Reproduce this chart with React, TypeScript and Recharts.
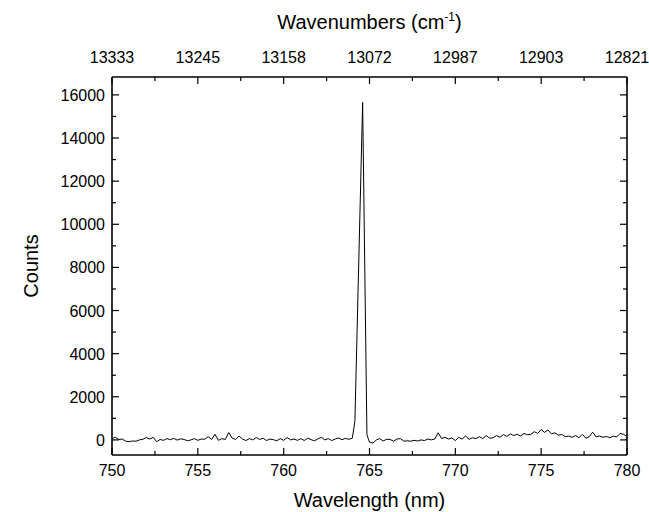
import { LineChart, Line, XAxis, YAxis } from "recharts";

// Emission spectrum, 750–780 nm, with a mirrored wavenumber axis on top.

const WAVELENGTH = [
  750.0, 750.2, 750.4, 750.6, 750.8, 751.0, 751.2, 751.4, 751.6, 751.8,
  752.0, 752.2, 752.4, 752.6, 752.8, 753.0, 753.2, 753.4, 753.6, 753.8,
  754.0, 754.2, 754.4, 754.6, 754.8, 755.0, 755.2, 755.4, 755.6, 755.8,
  756.0, 756.2, 756.4, 756.6, 756.8, 757.0, 757.2, 757.4, 757.6, 757.8,
  758.0, 758.2, 758.4, 758.6, 758.8, 759.0, 759.2, 759.4, 759.6, 759.8,
  760.0, 760.2, 760.4, 760.6, 760.8, 761.0, 761.2, 761.4, 761.6, 761.8,
  762.0, 762.2, 762.4, 762.6, 762.8, 763.0, 763.2, 763.4, 763.6, 763.8,
  764.0, 764.1, 764.15, 764.6, 764.85, 764.95,
  765.0, 765.2, 765.4, 765.6, 765.8, 766.0, 766.2, 766.4, 766.6, 766.8,
  767.0, 767.2, 767.4, 767.6, 767.8, 768.0, 768.2, 768.4, 768.6, 768.8,
  769.0, 769.2, 769.4, 769.6, 769.8, 770.0, 770.2, 770.4, 770.6, 770.8,
  771.0, 771.2, 771.4, 771.6, 771.8, 772.0, 772.2, 772.4, 772.6, 772.8,
  773.0, 773.2, 773.4, 773.6, 773.8, 774.0, 774.2, 774.4, 774.6, 774.8,
  775.0, 775.2, 775.4, 775.6, 775.8, 776.0, 776.2, 776.4, 776.6, 776.8,
  777.0, 777.2, 777.4, 777.6, 777.8, 778.0, 778.2, 778.4, 778.6, 778.8,
  779.0, 779.2, 779.4, 779.6, 779.8, 780.0,
];

const COUNTS = [
  60, 120, 20, 40, -60, -80, -50, -60, 0, 30,
  110, 40, 120, -80, 20, -20, 60, 10, 70, -10,
  50, 20, -40, 0, 60, -20, 40, 30, 150, 20,
  260, -20, 60, 20, 340, 80, 20, 180, 40, -30,
  60, 0, 110, 20, 80, -30, 40, 10, -40, 60,
  -20, 110, 0, 40, -20, 60, -30, 80, 10, -40,
  50, 120, 0, 60, -30, 40, 90, 10, 70, 30,
  80, 600, 900, 15650, 250, 0,
  -100, -150, 0, 60, -50, 30, 20, -60, 40, 60,
  -60, -40, -60, -20, -50, 0, -30, 40, 0, 40,
  330, 60, 120, 40, 90, -30, 120, 40, 180, 30,
  100, 60, 150, 60, 200, 80, 100, 200, 120, 250,
  160, 280, 200, 260, 180, 300, 240, 260, 380, 300,
  480, 350, 460, 280, 330, 220, 250, 150, 180, 120,
  200, 100, 260, 80, 150, 360, 140, 180, 120, 160,
  100, 170, 140, 300, 260, 150,
];

const X_TICKS = [750, 752.5, 755, 757.5, 760, 762.5, 765, 767.5, 770, 772.5, 775, 777.5, 780];
const X_MAJOR = [750, 755, 760, 765, 770, 775, 780];
const TOP_TICK_LABELS = ["13333", "13245", "13158", "13072", "12987", "12903", "12821"];
const Y_TICKS = [0, 1000, 2000, 3000, 4000, 5000, 6000, 7000, 8000, 9000, 10000, 11000, 12000, 13000, 14000, 15000, 16000];

const data = WAVELENGTH.map((x, i) => ({ x, y: COUNTS[i] }));

const FONT = "'Liberation Sans', Arial, sans-serif";
const MAJOR_LEN = 7;
const MINOR_LEN = 4;

function BottomTick(p: any) {
  const v = p.payload.value;
  const major = X_MAJOR.includes(v);
  return (
    <g>
      <line x1={p.x} x2={p.x} y1={p.y} y2={p.y - (major ? MAJOR_LEN : MINOR_LEN)} stroke="#000" strokeWidth={1.2} />
      {major && (
        <text x={p.x} y={p.y + 21} textAnchor="middle" fontFamily={FONT} fontSize={16} fill="#000">
          {v}
        </text>
      )}
    </g>
  );
}

function TopTick(p: any) {
  const v = p.payload.value;
  const idx = X_MAJOR.indexOf(v);
  const major = idx >= 0;
  return (
    <g>
      <line x1={p.x} x2={p.x} y1={p.y} y2={p.y + (major ? MAJOR_LEN : MINOR_LEN)} stroke="#000" strokeWidth={1.2} />
      {major && (
        <text x={p.x} y={p.y - 14} textAnchor="middle" fontFamily={FONT} fontSize={16} fill="#000">
          {TOP_TICK_LABELS[idx]}
        </text>
      )}
    </g>
  );
}

function LeftTick(p: any) {
  const v = p.payload.value;
  const major = v % 2000 === 0;
  return (
    <g>
      <line x1={p.x} x2={p.x + (major ? MAJOR_LEN : MINOR_LEN)} y1={p.y} y2={p.y} stroke="#000" strokeWidth={1.2} />
      {major && (
        <text x={p.x - 7} y={p.y + 6} textAnchor="end" fontFamily={FONT} fontSize={16} fill="#000">
          {v}
        </text>
      )}
    </g>
  );
}

function RightTick(p: any) {
  const v = p.payload.value;
  const major = v % 2000 === 0;
  return (
    <line x1={p.x} x2={p.x - (major ? MAJOR_LEN : MINOR_LEN)} y1={p.y} y2={p.y} stroke="#000" strokeWidth={1.2} />
  );
}

export default function App() {
  return (
    <div style={{ position: "absolute", left: 0, top: 0, width: 649, height: 512, background: "#fff" }}>
      <LineChart width={649} height={512} data={data} margin={{ top: 47, right: 12, bottom: 27, left: 62 }}>
        <XAxis
          xAxisId="bottom" orientation="bottom" type="number" dataKey="x"
          domain={[750, 780]} ticks={X_TICKS} interval={0} height={30}
          tickSize={0} tickMargin={0} tick={<BottomTick />}
          axisLine={{ stroke: "#000", strokeWidth: 1.6 }} tickLine={false}
          label={{
            content: () => (
              <text x={369.5} y={507} textAnchor="middle" fontFamily={FONT} fontSize={20} fill="#000">
                Wavelength (nm)
              </text>
            ),
          }}
        />
        <XAxis
          xAxisId="top" orientation="top" type="number" dataKey="x"
          domain={[750, 780]} ticks={X_TICKS} interval={0} height={30}
          tickSize={0} tickMargin={0} tick={<TopTick />}
          axisLine={{ stroke: "#000", strokeWidth: 1.6 }} tickLine={false}
          label={{
            content: () => (
              <text x={369.5} y={29} textAnchor="middle" fontFamily={FONT} fontSize={20} fill="#000">
                Wavenumbers (cm<tspan dy={-8} fontSize={12}>-1</tspan><tspan dy={8}>)</tspan>
              </text>
            ),
          }}
        />
        <YAxis
          yAxisId="left" orientation="left" type="number"
          domain={[-700, 16830]} ticks={Y_TICKS} interval={0} width={50}
          tickSize={0} tickMargin={0} tick={<LeftTick />}
          axisLine={{ stroke: "#000", strokeWidth: 1.6 }} tickLine={false}
          label={{
            content: () => (
              <text x={38} y={266} textAnchor="middle" fontFamily={FONT} fontSize={20} fill="#000" transform="rotate(-90 38 266)">
                Counts
              </text>
            ),
          }}
        />
        <YAxis
          yAxisId="right" orientation="right" type="number"
          domain={[-700, 16830]} ticks={Y_TICKS} interval={0} width={10}
          tickSize={0} tickMargin={0} tick={<RightTick />}
          axisLine={{ stroke: "#000", strokeWidth: 1.6 }} tickLine={false}
        />
        <Line
          xAxisId="top" yAxisId="right" dataKey="y" type="linear"
          stroke="none" dot={false} activeDot={false} isAnimationActive={false}
        />
        <Line
          xAxisId="bottom" yAxisId="left" dataKey="y" type="linear"
          stroke="#000" strokeWidth={1} dot={false} activeDot={false} isAnimationActive={false}
        />
      </LineChart>
    </div>
  );
}
